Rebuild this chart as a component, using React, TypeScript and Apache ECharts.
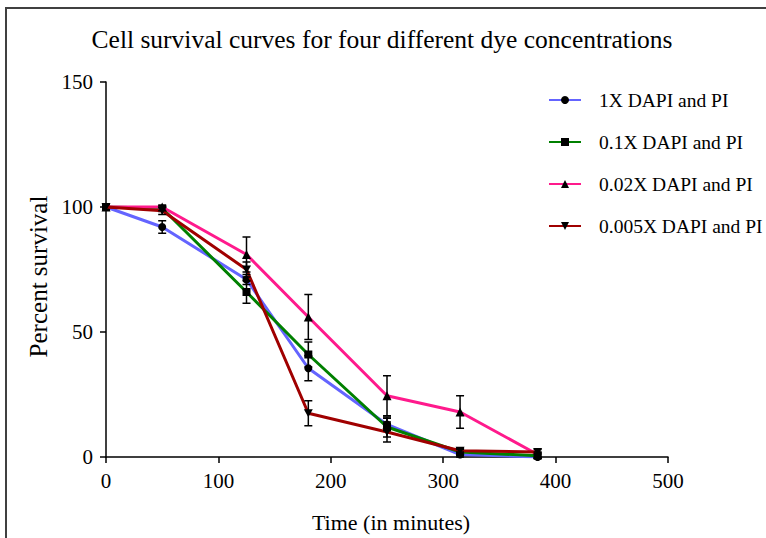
import React, { useEffect, useRef } from "react";
import * as echarts from "echarts";

const times = [0, 50, 125, 180, 250, 315, 384];
const seriesNames = ["1X DAPI and PI", "0.1X DAPI and PI", "0.02X DAPI and PI", "0.005X DAPI and PI"];
const s1 = [100, 92, 71, 35.5, 13, 1, 0];
const e1 = [0, 2.5, 2, 5, 2.5, 1, 0.5];
const s2 = [100, 99.5, 66, 41, 12, 2, 0.5];
const e2 = [0, 1, 4.5, 5, 4, 1, 1];
const s3 = [100, 100, 81, 56, 24.5, 18, 1];
const e3 = [0, 0.5, 7, 9, 8, 6.5, 1];
const s4 = [100, 98.5, 75, 17.5, 10, 2.5, 2];
const e4 = [0, 1.5, 3, 5, 4, 1, 1];
const xTicks = [0, 100, 200, 300, 400, 500];
const yTicks = [0, 50, 100, 150];

const colors = ["#6464ff", "#008000", "#ff1a8c", "#a00000"];
const symbols = ["circle", "rect", "triangle", "path://M0,0 L10,0 L5,10 Z"];
const FONT = "'Liberation Serif', 'Times New Roman', serif";

export default function App() {
  const ref = useRef<HTMLDivElement>(null);
  useEffect(() => {
    if (!ref.current) return;
    const chart = echarts.init(ref.current, null, { renderer: "svg" });
    const values = [s1, s2, s3, s4];
    const errs = [e1, e2, e3, e4];

    const lineSeries = values.map((vals, i) => ({
      name: seriesNames[i],
      type: "line",
      data: times.map((t, j) => [t, vals[j]]),
      symbol: symbols[i],
      symbolSize: i === 3 ? [9, 8] : i === 2 ? 9 : 8,
      showSymbol: true,
      lineStyle: { color: colors[i], width: 3 },
      itemStyle: { color: "#000" },
      z: 2 + i,
    }));

    const errSeries = values.map((vals, i) => ({
      name: seriesNames[i] + " err",
      type: "custom",
      z: 10,
      silent: true,
      data: times
        .map((t, j) => [t, vals[j], errs[i][j]])
        .filter((d) => d[2] > 0.6),
      renderItem: (params: any, api: any) => {
        const x = api.value(0);
        const y = api.value(1);
        const e = api.value(2);
        const top = api.coord([x, y + e]);
        const bot = api.coord([x, y - e]);
        const w = 4;
        const style = { stroke: "#000", lineWidth: 1.5 };
        return {
          type: "group",
          children: [
            { type: "line", shape: { x1: top[0], y1: top[1], x2: bot[0], y2: bot[1] }, style },
            { type: "line", shape: { x1: top[0] - w, y1: top[1], x2: top[0] + w, y2: top[1] }, style },
            { type: "line", shape: { x1: bot[0] - w, y1: bot[1], x2: bot[0] + w, y2: bot[1] }, style },
          ],
        };
      },
    }));

    chart.setOption({
      animation: false,
      backgroundColor: "#fff",
      textStyle: { fontFamily: FONT },
      title: {
        text: "Cell survival curves for four different dye concentrations",
        left: 377,
        textAlign: "center",
        top: 21,
        textStyle: { fontFamily: FONT, fontSize: 25.5, fontWeight: "normal", color: "#000" },
      },
      legend: {
        orient: "vertical",
        left: 543,
        top: 85,
        itemWidth: 32,
        itemHeight: 10,
        itemGap: 22,
        data: seriesNames,
        textStyle: { fontFamily: FONT, fontSize: 19.5, color: "#000", padding: [0, 0, 0, 13] },
      },
      grid: { left: 106, right: 98, top: 82, bottom: 81 },
      xAxis: {
        type: "value",
        min: xTicks[0],
        max: xTicks[xTicks.length - 1],
        interval: 100,
        name: "Time (in minutes)",
        nameLocation: "middle",
        nameGap: 54,
        nameTextStyle: { fontFamily: FONT, fontSize: 22, color: "#000", padding: [0, 0, 0, 8] },
        axisLine: { onZero: false, lineStyle: { color: "#000", width: 1.5 } },
        axisTick: { show: true, length: 6, lineStyle: { color: "#000", width: 1.5 } },
        axisLabel: { fontFamily: FONT, fontSize: 21, color: "#000", margin: 13 },
        splitLine: { show: false },
      },
      yAxis: {
        type: "value",
        min: yTicks[0],
        max: yTicks[yTicks.length - 1],
        interval: 50,
        name: "Percent survival",
        nameLocation: "middle",
        nameRotate: 90,
        nameGap: 54,
        nameTextStyle: { fontFamily: FONT, fontSize: 25, color: "#000", padding: [0, 14, 0, 0] },
        axisLine: { show: true, onZero: false, lineStyle: { color: "#000", width: 1.5 } },
        axisTick: { show: true, length: 6, lineStyle: { color: "#000", width: 1.5 } },
        axisLabel: { fontFamily: FONT, fontSize: 21, color: "#000", margin: 13 },
        splitLine: { show: false },
      },
      graphic: [
        {
          type: "polyline",
          shape: { points: [[6, 538], [6, 8], [766, 8]] },
          style: { stroke: "#404040", lineWidth: 2, fill: "none" },
        },
      ],
      series: [...lineSeries, ...errSeries],
    });
    return () => chart.dispose();
  }, []);
  return (
    <div
      ref={ref}
      style={{ position: "absolute", left: 0, top: 0, width: 766, height: 538 }}
    />
  );
}
